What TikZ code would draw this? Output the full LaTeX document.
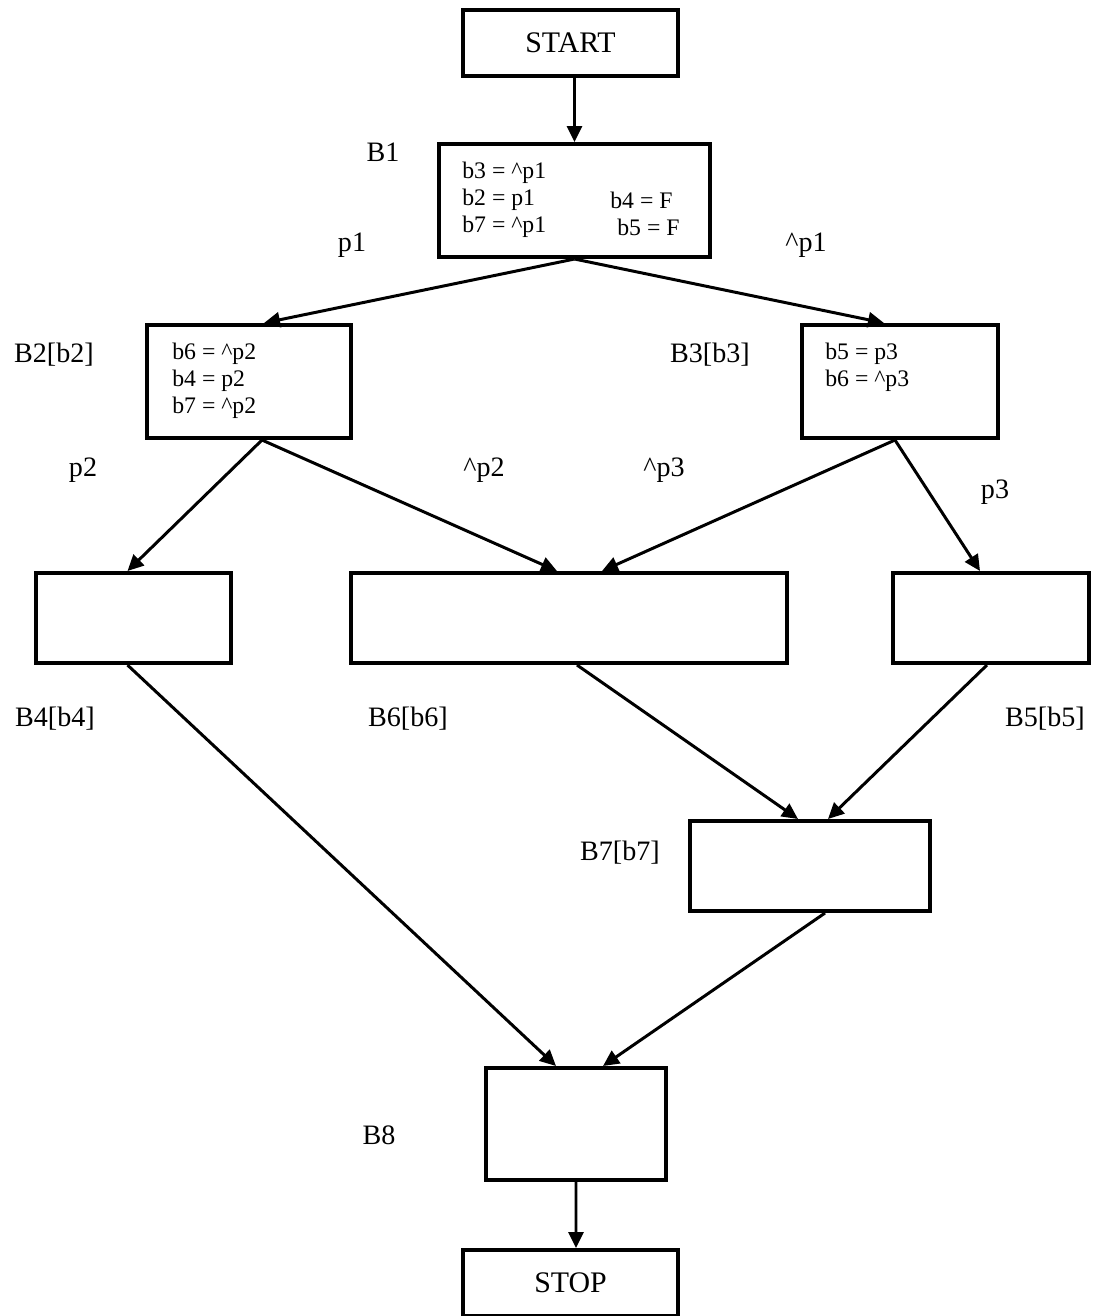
\documentclass[tikz,border=0pt]{standalone}
\usepackage{fontspec}
\setmainfont{Liberation Serif}
\usetikzlibrary{arrows.meta, calc}

\begin{document}
\begin{tikzpicture}[x=0.02cm, y=-0.02cm,
    >={Triangle[length=3.2mm, width=3mm]},
    blk/.style={draw, line width=2.3pt, inner sep=0pt},
    flow/.style={->, line width=1.7pt},
    lbl/.style={font=\fontsize{16}{18}\selectfont},
    code/.style={font=\fontsize{13.5}{15.5}\selectfont, align=left, inner sep=0pt, anchor=west}
  ]
  \useasboundingbox (0,0) rectangle (1097,1316);

  % blocks
  \node[blk, minimum width=4.30cm, minimum height=1.32cm, font=\fontsize{17}{20}\selectfont] (start) at (570.5,43) {START};
  \node[blk, minimum width=5.42cm, minimum height=2.26cm] (b1) at (574.5,200.5) {};
  \node[blk, minimum width=4.08cm, minimum height=2.26cm] (b2) at (249,381.5) {};
  \node[blk, minimum width=3.92cm, minimum height=2.26cm] (b3) at (900,381.5) {};
  \node[blk, minimum width=3.90cm, minimum height=1.80cm] (b4) at (133.5,618) {};
  \node[blk, minimum width=8.72cm, minimum height=1.80cm] (b6) at (569,618) {};
  \node[blk, minimum width=3.92cm, minimum height=1.80cm] (b5) at (991,618) {};
  \node[blk, minimum width=4.80cm, minimum height=1.80cm] (b7) at (810,866) {};
  \node[blk, minimum width=3.60cm, minimum height=2.24cm] (b8) at (576,1124) {};
  \node[blk, minimum width=4.30cm, minimum height=1.32cm, font=\fontsize{17}{20}\selectfont] (stop) at (570.5,1283) {STOP};

  % block contents
  \node[code] (b1l) at (462,200) {b3 = \^{}p1\\ b2 = p1\\ b7 = \^{}p1};
  \node[code] (b1r1) at (610,200) {b4 = F};
  \node[code] (b1r2) at (617,227) {b5 = F};
  \node[code] (b2t) at (172,381) {b6 = \^{}p2\\ b4 = p2\\ b7 = \^{}p2};
  \node[code] (b3t) at (825,367) {b5 = p3\\ b6 = \^{}p3};

  % labels
  \node[lbl] (nb1) at (383,152) {B1};
  \node[lbl] (lp1) at (352,245) {p1};
  \node[lbl] (lnp1) at (806,245) {\^{}p1};
  \node[lbl] (nb2) at (54,355) {B2[b2]};
  \node[lbl] (nb3) at (710,355) {B3[b3]};
  \node[lbl] (lp2) at (83,470) {p2};
  \node[lbl] (lnp2) at (484,470) {\^{}p2};
  \node[lbl] (lnp3) at (664,470) {\^{}p3};
  \node[lbl] (lp3) at (995,492) {p3};
  \node[lbl] (nb4) at (55,719) {B4[b4]};
  \node[lbl] (nb6) at (408,719) {B6[b6]};
  \node[lbl] (nb5) at (1045,719) {B5[b5]};
  \node[lbl] (nb7) at (620,853) {B7[b7]};
  \node[lbl] (nb8) at (379,1135) {B8};

  % connectors
  \draw[flow] ($(start.south)+(4,0)$) -- (b1.north);
  \draw[flow] (b1.south) -- ($(b2.north)+(15,0)$);
  \draw[flow] (b1.south) -- ($(b3.north)+(-16,0)$);
  \draw[flow] ($(b2.south)+(13,0)$) -- ($(b4.north)+(-6,0)$);
  \draw[flow] ($(b2.south)+(13,0)$) -- ($(b6.north)+(-12,0)$);
  \draw[flow] ($(b3.south)+(-5,0)$) -- ($(b6.north)+(33,0)$);
  \draw[flow] ($(b3.south)+(-5,0)$) -- ($(b5.north)+(-11,0)$);
  \draw[flow] ($(b4.south)+(-6,0)$) -- ($(b8.north)+(-20,0)$);
  \draw[flow] ($(b6.south)+(8,0)$) -- ($(b7.north)+(-12,0)$);
  \draw[flow] ($(b5.south)+(-4,0)$) -- ($(b7.north)+(18,0)$);
  \draw[flow] ($(b7.south)+(15,0)$) -- ($(b8.north)+(27,0)$);
  \draw[flow] (b8.south) -- ($(stop.north)+(5.5,0)$);
\end{tikzpicture}
\end{document}
